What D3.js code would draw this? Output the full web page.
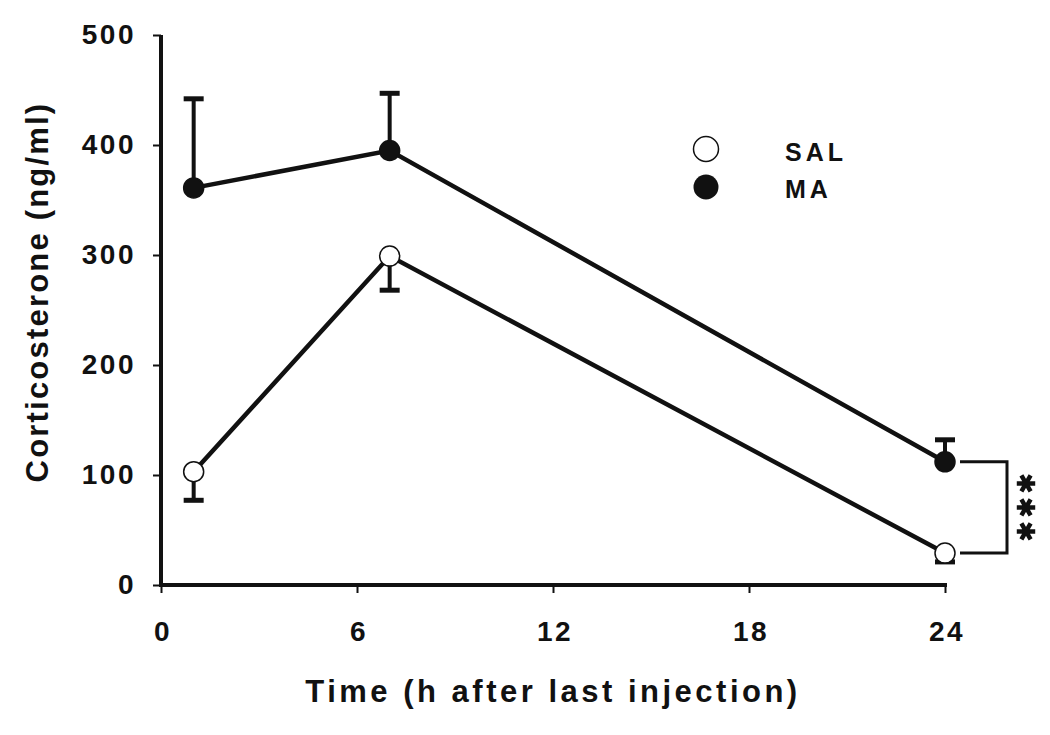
<!DOCTYPE html>
<html>
<head>
<meta charset="utf-8">
<script src="https://cdn.jsdelivr.net/npm/d3@7"></script>
<style>
  body { margin: 0; background: #fff; }
  text { font-family: Arial, "Liberation Sans", sans-serif; font-weight: bold; fill: #111; }
</style>
</head>
<body>
<script>
// data
var hours = [1, 7, 24];
var salMean = [103, 299, 29];
var salErr = [26, 31, 8];     // drawn below the point
var maMean = [361, 395, 112];
var maErr = [81, 52, 20];     // drawn above the point
var xTicks = [0, 6, 12, 18, 24];
var yTicks = [0, 100, 200, 300, 400, 500];

var svgWidth = 1050;
var svgHeight = 735;
var margin = { top: 35, right: 104, bottom: 150, left: 161 };
var chartWidth = svgWidth - margin.left - margin.right;
var chartHeight = svgHeight - margin.top - margin.bottom;

var svg = d3.select("body").append("svg")
  .attr("width", svgWidth)
  .attr("height", svgHeight);

var chartGroup = svg.append("g")
  .attr("transform", `translate(${margin.left}, ${margin.top})`);

var x = d3.scaleLinear().domain([0, 24]).range([0, 784]);
var y = d3.scaleLinear().domain([0, 500]).range([chartHeight, 0]);

// axes
var xAxis = d3.axisBottom(x).tickValues(xTicks).tickSize(8).tickPadding(28).tickSizeOuter(0);
var yAxis = d3.axisLeft(y).tickValues(yTicks).tickSize(8).tickPadding(17).tickSizeOuter(0);

var gx = chartGroup.append("g")
  .attr("transform", `translate(0, ${chartHeight})`)
  .call(xAxis);
var gy = chartGroup.append("g").call(yAxis);

[gx, gy].forEach(function(g) {
  g.select(".domain").attr("stroke", "#111").attr("stroke-width", 4);
  g.selectAll(".tick line").attr("stroke", "#111").attr("stroke-width", 2);
  g.selectAll(".tick text").attr("font-size", "28px").attr("fill", "#111")
    .attr("letter-spacing", "2.5px")
    .attr("font-family", "Arial, 'Liberation Sans', sans-serif").attr("font-weight", "bold");
});
gx.selectAll(".tick text").attr("dx", "1.5px");
gx.select(".domain").attr("d", `M0,0H${x(24) + 2}`);
gy.select(".domain").attr("d", `M0,${chartHeight + 2}V0`);

var salData = hours.map((h, i) => ({ h: h, v: salMean[i], e: salErr[i] }));
var maData = hours.map((h, i) => ({ h: h, v: maMean[i], e: maErr[i] }));

var line = d3.line().x(d => x(d.h)).y(d => y(d.v));

// error bars
function errBars(data, dir) {
  var g = chartGroup.append("g");
  g.selectAll("line.stem").data(data).enter().append("line")
    .attr("x1", d => x(d.h)).attr("x2", d => x(d.h))
    .attr("y1", d => y(d.v)).attr("y2", d => y(d.v + dir * d.e))
    .attr("stroke", "#111").attr("stroke-width", 4);
  g.selectAll("line.cap").data(data).enter().append("line")
    .attr("x1", d => x(d.h) - 10).attr("x2", d => x(d.h) + 10)
    .attr("y1", d => y(d.v + dir * d.e)).attr("y2", d => y(d.v + dir * d.e))
    .attr("stroke", "#111").attr("stroke-width", 5);
}
errBars(maData, 1);
errBars(salData, -1);

chartGroup.append("path").datum(maData).attr("d", line)
  .attr("fill", "none").attr("stroke", "#111").attr("stroke-width", 4.5);
chartGroup.append("path").datum(salData).attr("d", line)
  .attr("fill", "none").attr("stroke", "#111").attr("stroke-width", 4.5);

chartGroup.selectAll("circle.ma").data(maData).enter().append("circle")
  .attr("cx", d => x(d.h)).attr("cy", d => y(d.v)).attr("r", 10)
  .attr("fill", "#111").attr("stroke", "#111").attr("stroke-width", 1.5);
chartGroup.selectAll("circle.sal").data(salData).enter().append("circle")
  .attr("cx", d => x(d.h)).attr("cy", d => y(d.v)).attr("r", 10)
  .attr("fill", "#fff").attr("stroke", "#111").attr("stroke-width", 1.5);

// significance bracket at 24 h
var bx0 = x(24) + 15, bx1 = x(24) + 62;
var yTop = y(maMean[2]), yBot = y(salMean[2]);
chartGroup.append("path")
  .attr("d", `M${bx0},${yTop}H${bx1}V${yBot}H${bx0}`)
  .attr("fill", "none").attr("stroke", "#111").attr("stroke-width", 3);
var star = d3.symbol(d3.symbolAsterisk, 240);
[-1, 0, 1].forEach(function(k) {
  chartGroup.append("path")
    .attr("d", star())
    .attr("transform", `translate(${x(24) + 81}, ${(yTop + yBot) / 2 + k * 24}) rotate(90)`)
    .attr("fill", "none").attr("stroke", "#111").attr("stroke-width", 4.5);
});

// legend
var legend = svg.append("g");
legend.append("circle").attr("cx", 706).attr("cy", 149).attr("r", 12.5)
  .attr("fill", "#fff").attr("stroke", "#111").attr("stroke-width", 1.5);
legend.append("circle").attr("cx", 706).attr("cy", 187).attr("r", 12.5)
  .attr("fill", "#111");
legend.append("text").attr("x", 785).attr("y", 161).attr("font-size", "25px")
  .attr("letter-spacing", "4px").text("SAL");
legend.append("text").attr("x", 785).attr("y", 198).attr("font-size", "25px")
  .attr("letter-spacing", "4px").text("MA");

// axis titles
svg.append("text")
  .attr("x", 553).attr("y", 702)
  .attr("text-anchor", "middle").attr("font-size", "31px")
  .attr("letter-spacing", "3.5px")
  .text("Time (h after last injection)");
svg.append("text")
  .attr("transform", `translate(48, 292) rotate(-90)`)
  .attr("text-anchor", "middle").attr("font-size", "31px")
  .attr("letter-spacing", "2.2px")
  .text("Corticosterone (ng/ml)");
</script>
</body>
</html>
